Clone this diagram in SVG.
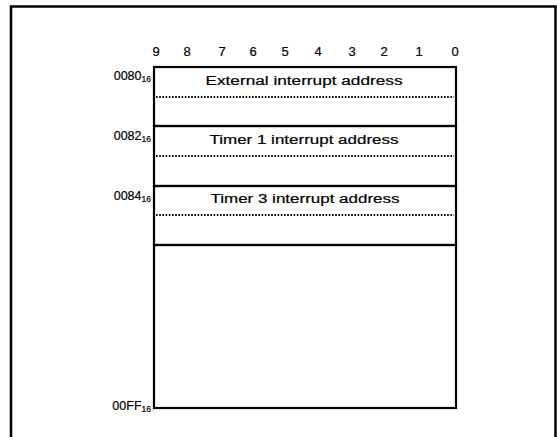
<svg xmlns="http://www.w3.org/2000/svg" width="557" height="437" viewBox="0 0 557 437">
<style>
text{font-family:"Liberation Sans",Arial,sans-serif;fill:#000;stroke:#000;stroke-width:0.2}
.bit{font-size:13px;text-anchor:middle}
.lbl{font-size:12.5px;text-anchor:middle}
.addr{font-size:12.5px;text-anchor:end}
.sub{font-size:8.5px}
.box{fill:none;stroke:#000;stroke-width:2.2}
.dot{stroke:#000;stroke-width:1.8;stroke-dasharray:1.6 1.6}
</style>
<rect x="0" y="0" width="557" height="437" fill="#fff"/>
<path d="M11 445 V6.5 H555.5 V445" fill="none" stroke="#000" stroke-width="2.5"/>
<g id="bits">
<text class="bit" x="156" y="56">9</text>
<text class="bit" x="187" y="56">8</text>
<text class="bit" x="222" y="56">7</text>
<text class="bit" x="253" y="56">6</text>
<text class="bit" x="285" y="56">5</text>
<text class="bit" x="318" y="56">4</text>
<text class="bit" x="352" y="56">3</text>
<text class="bit" x="384" y="56">2</text>
<text class="bit" x="419" y="56">1</text>
<text class="bit" x="455" y="56">0</text>
</g>
<g id="ext">
<rect class="box" x="154" y="67" width="302" height="59"/>
<line class="dot" x1="156" y1="97" x2="454" y2="97"/>
<text class="lbl" x="304" y="85" textLength="197" lengthAdjust="spacingAndGlyphs">External interrupt address</text>
<text class="addr" x="151" y="80">0080<tspan class="sub" dy="2">16</tspan></text>
</g>
<g id="t1">
<rect class="box" x="154" y="126" width="302" height="60"/>
<line class="dot" x1="156" y1="156" x2="454" y2="156"/>
<text class="lbl" x="304" y="144" textLength="189" lengthAdjust="spacingAndGlyphs">Timer 1 interrupt address</text>
<text class="addr" x="151" y="140">0082<tspan class="sub" dy="2">16</tspan></text>
</g>
<g id="t3">
<rect class="box" x="154" y="186" width="302" height="59"/>
<line class="dot" x1="156" y1="215" x2="454" y2="215"/>
<text class="lbl" x="305" y="203" textLength="189" lengthAdjust="spacingAndGlyphs">Timer 3 interrupt address</text>
<text class="addr" x="151" y="200">0084<tspan class="sub" dy="2">16</tspan></text>
</g>
<g id="rest">
<rect class="box" x="154" y="245" width="302" height="163"/>
<text class="addr" x="151" y="410">00FF<tspan class="sub" dy="2">16</tspan></text>
</g>
</svg>
